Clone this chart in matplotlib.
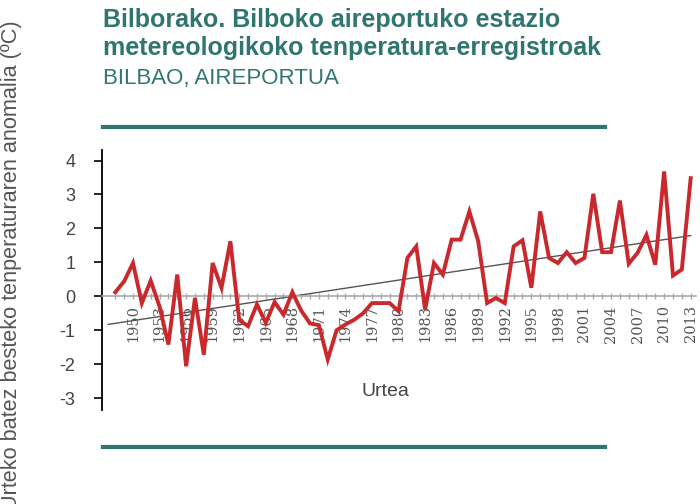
import numpy as np
import matplotlib.pyplot as plt

years = list(range(1948, 2014))
anomaly = [0.12, 0.44, 0.98, -0.2, 0.46, -0.3, -1.42, 0.64, -2.06, -0.05,
           -1.72, 0.98, 0.25, 1.62, -0.7, -0.88, -0.24, -0.78, -0.17, -0.54,
           0.12, -0.42, -0.8, -0.85, -1.86, -1.0, -0.83, -0.69, -0.5, -0.2,
           -0.2, -0.2, -0.44, 1.13, 1.47, -0.39, 0.98, 0.64, 1.67, 1.67,
           2.5, 1.62, -0.2, -0.05, -0.2, 1.47, 1.65, 0.25, 2.5, 1.13,
           0.98, 1.3, 0.98, 1.13, 3.02, 1.3, 1.3, 2.82, 0.96, 1.28,
           1.81, 0.93, 3.68, 0.61, 0.79, 3.48]
label_years = list(range(1950, 2014, 3))
yticks = [4, 3, 2, 1, 0, -1, -2, -3]

teal = '#2f7570'
red = '#c9282d'
W, H = 700, 504

plt.rcParams['font.family'] = ['Liberation Sans', 'DejaVu Sans']
fig = plt.figure(figsize=(7, 5.04), dpi=100)

ax = fig.add_axes([102 / W, 1 - 410 / H, (696 - 102) / W, (410 - 150) / H])
ax.set_xlim(1946.5, 2013.6)
ax.set_ylim(-3.35, 4.31)

x = np.array(years)
y = np.array(anomaly)
k, b = np.polyfit(x, y, 1)
xt = np.array([1947.2, 2013])
ax.plot(xt, k * xt + b, color='#555555', lw=1.0, zorder=2)
ax.plot(x, y, color=red, lw=2.8, solid_joinstyle='miter', zorder=3)

ax.spines['top'].set_visible(False)
ax.spines['right'].set_visible(False)
ax.spines['left'].set_color('black')
ax.spines['left'].set_linewidth(1.3)
ax.spines['bottom'].set_position(('data', 0))
ax.spines['bottom'].set_color('#aaaaaa')
ax.spines['bottom'].set_linewidth(1.2)

ax.set_yticks(yticks)
ax.set_yticklabels([str(v) for v in yticks])
ax.tick_params(axis='y', length=6, width=1.2, color='black', labelsize=13,
               labelcolor='#444444', pad=13)

ax.set_xticks(label_years)
ax.set_xticklabels([str(v) for v in label_years], rotation=90,
                   family='DejaVu Serif', fontsize=10.5, color='#555555')
ax.set_xticks(years, minor=True)
ax.tick_params(axis='x', which='both', direction='inout', length=5, width=1,
               color='#aaaaaa', pad=4)

fig.text(385 / W, 1 - 392 / H, 'Urtea', ha='center', va='center',
         fontsize=14, color='#444444')

fig.text(12 / W, 1 - 20 / H, 'Urteko batez besteko tenperaturaren anomalia (ºC)',
         rotation=90, ha='center', va='top', fontsize=15.6, color='#555555')

fig.text(103 / W, 1 - 27 / H, 'Bilborako. Bilboko aireportuko estazio',
         ha='left', va='baseline', fontsize=18, fontweight='bold', color=teal)
fig.text(103 / W, 1 - 55 / H, 'metereologikoko tenperatura-erregistroak',
         ha='left', va='baseline', fontsize=18, fontweight='bold', color=teal)
fig.text(103 / W, 1 - 84 / H, 'BILBAO, AIREPORTUA',
         ha='left', va='baseline', fontsize=16, color=teal)

for yy in (127, 447):
    fig.add_artist(plt.Line2D([103 / W, 605 / W], [1 - yy / H, 1 - yy / H],
                              color=teal, lw=3))

fig.savefig('out.png', dpi=100)
